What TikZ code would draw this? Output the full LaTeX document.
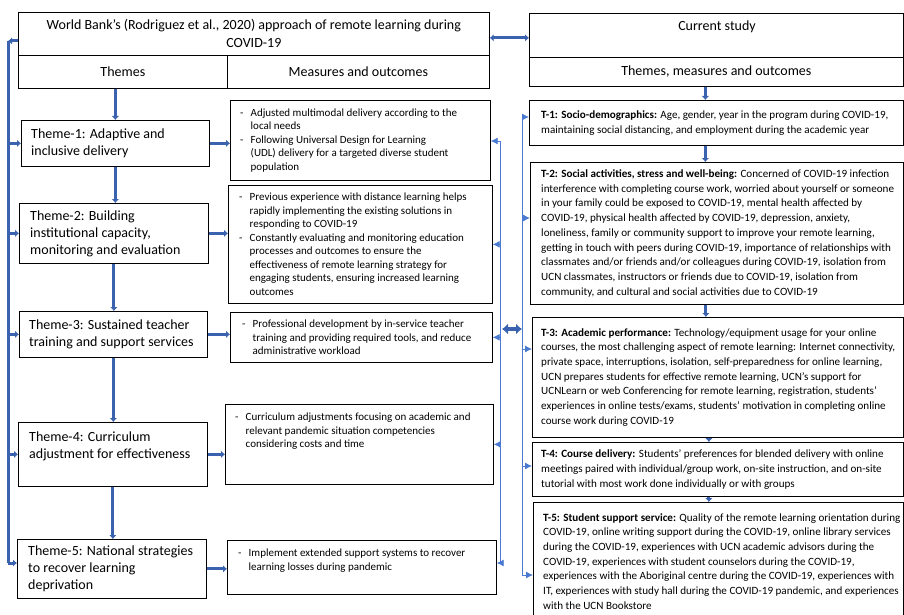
\documentclass[tikz,border=0pt]{standalone}
\usepackage{fontspec}
\setmainfont{Carlito}
\usetikzlibrary{arrows.meta,positioning}
\definecolor{flowblue}{RGB}{59,98,174}
\definecolor{busblue}{RGB}{74,123,208}
\newcommand{\dsh}{\makebox[10.5pt][l]{-}}
\newcommand{\ind}{\hspace*{10.5pt}}

\begin{document}
\begin{tikzpicture}[x=1pt, y=1pt, >={Latex[length=4pt,width=7.5pt]},
    box/.style={draw, line width=0.7pt, anchor=north west, inner sep=0pt},
    head/.style={font=\fontsize{14}{18}\selectfont, align=center},
    theme/.style={font=\fontsize{14}{17}\selectfont, align=left, inner sep=0pt},
    meas/.style={font=\fontsize{11}{13.5}\selectfont, align=left, inner sep=0pt},
    study/.style={font=\fontsize{11.1}{14.7}\selectfont, align=left, inner sep=0pt},
    flow/.style={draw=flowblue, line width=3pt, ->},
    bus/.style={draw=busblue, line width=0.9pt, >={Latex[length=7pt,width=7pt]}},
    fat/.style={draw=flowblue, line width=4.5pt, <->, >={Latex[length=6pt,width=11pt]}}]
  \useasboundingbox (0,0) rectangle (904,-615);

  % World Bank side
  \node[box, head, minimum width=471, minimum height=43] (wb) at (18,-12) {World Bank’s (Rodriguez et al., 2020) approach of remote learning during\\COVID-19};
  \node[box, head, minimum width=209, minimum height=33] (wbthemes) at (18,-55) {Themes};
  \node[box, head, minimum width=262, minimum height=33] (wbmeas) at (227,-55) {Measures and outcomes};

  \node[box, minimum width=188, minimum height=46] (th1) at (21,-120) {};
  \node[theme, anchor=west] (th1txt) at ([xshift=10pt]th1.west) {Theme-1: Adaptive and\\inclusive delivery};
  \node[box, minimum width=189, minimum height=60] (th2) at (19,-203) {};
  \node[theme, anchor=west] (th2txt) at ([xshift=11pt]th2.west) {Theme-2: Building\\institutional capacity,\\monitoring and evaluation};
  \node[box, minimum width=188, minimum height=46] (th3) at (19,-311) {};
  \node[theme, anchor=west] (th3txt) at ([xshift=10pt]th3.west) {Theme-3: Sustained teacher\\training and support services};
  \node[box, minimum width=189, minimum height=64] (th4) at (18,-422) {};
  \node[theme, anchor=north west] (th4txt) at ([shift={(11pt,-9.5pt)}]th4.north west) {Theme-4: Curriculum\\adjustment for effectiveness};
  \node[box, minimum width=189, minimum height=59] (th5) at (17,-539) {};
  \node[theme, anchor=west] (th5txt) at ([xshift=11pt]th5.west) {Theme-5: National strategies\\to recover learning\\deprivation};

  \node[box, minimum width=260, minimum height=80] (m1) at (230,-100) {};
  \node[meas, anchor=west] (m1txt) at ([xshift=10pt]m1.west) {\dsh Adjusted multimodal delivery according to the\\\ind local needs\\\dsh Following Universal Design for Learning\\\ind (UDL) delivery for a targeted diverse student\\\ind population};
  \node[box, minimum width=264, minimum height=118] (m2) at (228,-185) {};
  \node[meas, anchor=west] (m2txt) at ([xshift=11pt]m2.west) {\dsh Previous experience with distance learning helps\\\ind rapidly implementing the existing solutions in\\\ind responding to COVID-19\\\dsh Constantly evaluating and monitoring education\\\ind processes and outcomes to ensure the\\\ind effectiveness of remote learning strategy for\\\ind engaging students, ensuring increased learning\\\ind outcomes};
  \node[box, minimum width=262, minimum height=50] (m3) at (230,-312) {};
  \node[meas, anchor=west] (m3txt) at ([xshift=12pt]m3.west) {\dsh Professional development by in-service teacher\\\ind training and providing required tools, and reduce\\\ind administrative workload};
  \node[box, minimum width=268, minimum height=80] (m4) at (225,-404) {};
  \node[meas, anchor=north west] (m4txt) at ([shift={(10pt,-9pt)}]m4.north west) {\dsh Curriculum adjustments focusing on academic and\\\ind relevant pandemic situation competencies\\\ind considering costs and time};
  \node[box, minimum width=269, minimum height=54] (m5) at (227,-540) {};
  \node[meas, anchor=north west] (m5txt) at ([shift={(11pt,-9pt)}]m5.north west) {\dsh Implement extended support systems to recover\\\ind learning losses during pandemic};

  % current study side
  \node[box, minimum width=374, minimum height=44] (cs) at (529,-13) {};
  \node[head] (cstxt) at (717,-27) {Current study};
  \node[box, head, minimum width=374, minimum height=29] (csthemes) at (529,-57) {Themes, measures and outcomes};

  \node[box, minimum width=374, minimum height=45] (t1) at (529,-100) {};
  \node[study, anchor=west] (t1txt) at ([xshift=12pt]t1.west) {\textbf{T-1: Socio-demographics:} Age, gender, year in the program during COVID-19,\\maintaining social distancing, and employment during the academic year};
  \node[box, minimum width=373, minimum height=142] (t2) at (530,-162) {};
  \node[study, anchor=west] (t2txt) at ([xshift=11pt]t2.west) {\textbf{T-2: Social activities, stress and well-being:} Concerned of COVID-19 infection\\interference with completing course work, worried about yourself or someone\\in your family could be exposed to COVID-19, mental health affected by\\COVID-19, physical health affected by COVID-19, depression, anxiety,\\loneliness, family or community support to improve your remote learning,\\getting in touch with peers during COVID-19, importance of relationships with\\classmates and/or friends and/or colleagues during COVID-19, isolation from\\UCN classmates, instructors or friends due to COVID-19, isolation from\\community, and cultural and social activities due to COVID-19};
  \node[box, minimum width=371, minimum height=120] (t3) at (532,-317) {};
  \node[study, anchor=west] (t3txt) at ([xshift=9pt]t3.west) {\textbf{T-3: Academic performance:} Technology/equipment usage for your online\\courses, the most challenging aspect of remote learning: Internet connectivity,\\private space, interruptions, isolation, self-preparedness for online learning,\\UCN prepares students for effective remote learning, UCN’s support for\\UCNLearn or web Conferencing for remote learning, registration, students’\\experiences in online tests/exams, students’ motivation in completing online\\course work during COVID-19};
  \node[box, minimum width=371, minimum height=54] (t4) at (532,-442) {};
  \node[study, anchor=west] (t4txt) at ([xshift=9pt]t4.west) {\textbf{T-4: Course delivery:} Students’ preferences for blended delivery with online\\meetings paired with individual/group work, on-site instruction, and on-site\\tutorial with most work done individually or with groups};
  \node[box, minimum width=370, minimum height=118] (t5) at (533,-502) {};
  \node[study, anchor=west] (t5txt) at ([xshift=10pt]t5.west) {\textbf{T-5: Student support service:} Quality of the remote learning orientation during\\COVID-19, online writing support during the COVID-19, online library services\\during the COVID-19, experiences with UCN academic advisors during the\\COVID-19, experiences with student counselors during the COVID-19,\\experiences with the Aboriginal centre during the COVID-19, experiences with\\IT, experiences with study hall during the COVID-19 pandemic, and experiences\\with the UCN Bookstore};

  % thick arrows down the columns
  \draw[flow] (th1.north |- wbthemes.south) -- (th1.north);
  \draw[flow] (th1.south) -- (th1.south |- th2.north);
  \draw[flow] (th2.south) -- (th2.south |- th3.north);
  \draw[flow] (th3.south) -- (th3.south |- th4.north);
  \draw[flow] (th4.south) -- (th4.south |- th5.north);
  \draw[flow] (th1.east) -- (th1.east -| m1.west);
  \draw[flow] (th2.east) -- (th2.east -| m2.west);
  \draw[flow] (th3.east) -- (th3.east -| m3.west);
  \draw[flow] (th4.east) -- (th4.east -| m4.west);
  \draw[flow] (th5.east) -- (th5.east -| m5.west);
  \draw[flow] ([xshift=-11pt]t1.north |- csthemes.south) -- ([xshift=-11pt]t1.north);
  \draw[flow] ([xshift=-11pt]t1.south) -- ([xshift=-11pt]t1.south |- t2.north);
  \draw[flow] ([xshift=-11pt]t2.south) -- ([xshift=-11pt]t2.south |- t3.north);
  \draw[flow] ([xshift=-9pt]t3.south) -- ([xshift=-9pt]t3.south |- t4.north);
  \draw[flow] ([xshift=-9pt]t4.south) -- ([xshift=-9pt]t4.south |- t5.north);
  \draw[flow, <->] ([yshift=-4pt]wb.east) -- ([yshift=-4pt]wb.east -| cs.west);

  % left feedback line
  \coordinate (lb1) at (8,-41);
  \coordinate (lb2) at (8,-563);
  \draw[flow] (wb.west |- lb1) -- (lb1);
  \draw[flow, -] (lb1) -- (lb2);
  \draw[flow] (lb1 |- th1.west) -- (th1.west);
  \draw[flow] (lb1 |- th2.west) -- (th2.west);
  \draw[flow] (lb1 |- th3.west) -- (th3.west);
  \draw[flow] (lb1 |- th4.west) -- (th4.west);
  \draw[flow] (lb2) -- (lb2 -| th5.west);

  % thin lines between the two sides
  \coordinate (mb1) at (500,-141);
  \coordinate (mb2) at (500,-563);
  \draw[bus] (mb1) -- (mb2);
  \draw[bus, ->] (mb1) -- (mb1 -| m1.east);
  \draw[bus, ->] (mb1 |- m2.east) -- (m2.east);
  \draw[bus, ->] (mb1 |- m3.east) -- (m3.east);
  \draw[bus, ->] (mb1 |- m4.east) -- (m4.east);
  \draw[bus, ->] (mb2) -- (mb2 -| m5.east);
  \coordinate (tb1) at (522,-117);
  \coordinate (tb2) at (522,-218);
  \coordinate (tb3) at (522,-349);
  \coordinate (tb4) at (522,-466);
  \coordinate (tb5) at (522,-575);
  \draw[bus] (tb1) -- (tb5);
  \draw[bus, ->] (tb1) -- (tb1 -| t1.west);
  \draw[bus, ->] (tb2) -- (tb2 -| t2.west);
  \draw[bus, ->] (tb3) -- (tb3 -| t3.west);
  \draw[bus, ->] (tb4) -- (tb4 -| t4.west);
  \draw[bus, ->] (tb5) -- (tb5 -| t5.west);
  \coordinate (sw1) at (502,-329);
  \coordinate (sw2) at (522,-329);
  \draw[fat] (sw1) -- (sw2);
\end{tikzpicture}
\end{document}
